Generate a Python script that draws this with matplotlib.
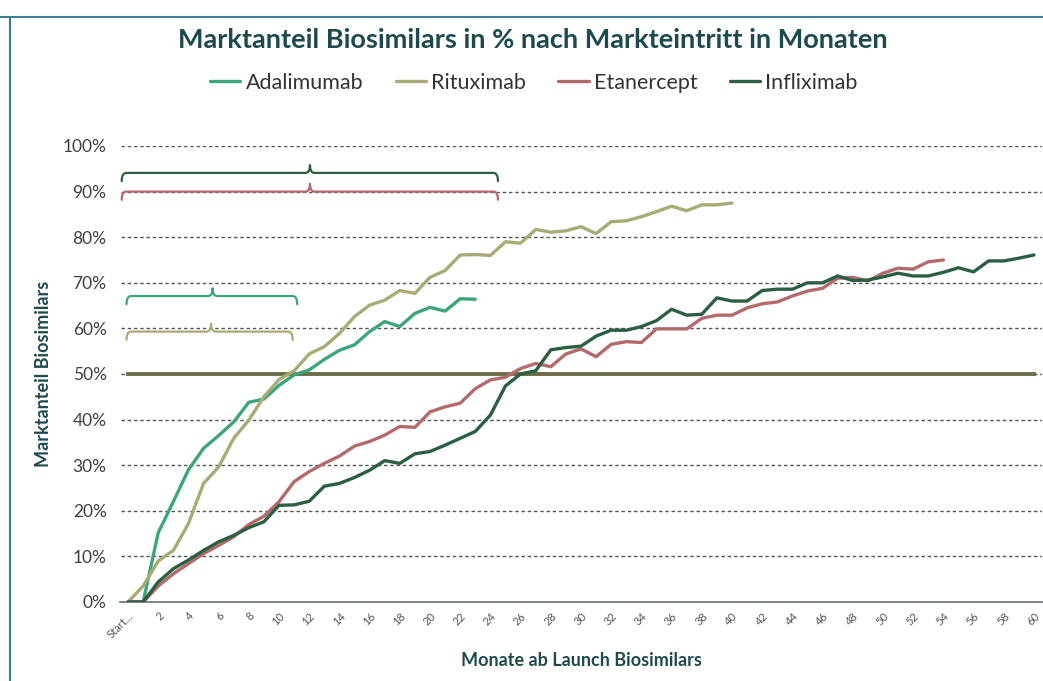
import matplotlib
matplotlib.use('Agg')
import matplotlib.pyplot as plt
from matplotlib.path import Path
from matplotlib.patches import PathPatch
from matplotlib.lines import Line2D
import numpy as np

plt.rcParams['font.family'] = ['Lato', 'DejaVu Sans']

# Marktanteil (%) je Monat ab Launch, Index 0 = "Start..."
ADALIMUMAB = [0, 0, 15.2, 22, 29, 33.7, 36.5, 39.5, 43.8, 44.5, 47.5, 49.8, 50.9, 53.2, 55.2,
              56.4, 59.3, 61.5, 60.4, 63.3, 64.6, 63.8, 66.5, 66.4]
RITUXIMAB = [0, 3.5, 9, 11.3, 17.2, 26, 29.6, 35.9, 39.9, 45, 48.8, 50.7, 54.4, 56, 58.9,
             62.6, 65.1, 66.2, 68.3, 67.7, 71.2, 72.7, 76.1, 76.2, 76, 79, 78.7, 81.7, 81.1,
             81.4, 82.3, 80.8, 83.4, 83.6, 84.5, 85.6, 86.8, 85.8, 87.1, 87.1, 87.5]
ETANERCEPT = [0, 0, 3.5, 6.2, 8.4, 10.6, 12.4, 14.3, 17, 18.8, 22, 26.4, 28.6, 30.4, 32,
              34.2, 35.2, 36.6, 38.5, 38.3, 41.7, 42.8, 43.6, 46.8, 48.7, 49.3, 51.2, 52.3,
              51.6, 54.4, 55.5, 53.8, 56.5, 57.1, 56.9, 59.9, 59.9, 59.9, 62.2, 62.9, 62.9,
              64.5, 65.4, 65.8, 67.1, 68.2, 68.8, 71, 71.2, 70.4, 72.1, 73.2, 73, 74.6, 75]
INFLIXIMAB = [0, 0, 4.4, 7.3, 9.2, 11.3, 13.2, 14.6, 16.3, 17.6, 21.2, 21.3, 22.1, 25.4, 26,
              27.3, 28.9, 31, 30.4, 32.5, 33, 34.4, 35.9, 37.4, 41, 47.4, 50, 50.7, 55.3,
              55.8, 56.1, 58.3, 59.6, 59.6, 60.4, 61.7, 64.2, 62.9, 63.1, 66.7, 66, 66, 68.3,
              68.6, 68.6, 70, 70, 71.5, 70.5, 70.6, 71.3, 72.1, 71.5, 71.5, 72.3, 73.3, 72.4,
              74.8, 74.8, 75.4, 76.1]
THRESHOLD = 50
N_MONTHS = 61
TICK_POS = list(range(0, 61, 2))
TICK_LABELS = ['Start...'] + [str(m) for m in range(2, 61, 2)]

# Klammern: Monate bis 50 % Marktanteil (start, ende, mitte, hoehe)
BRACKETS = [
    ('Infliximab', -0.42, 24.5, 12.05, 94.1),
    ('Etanercept', -0.42, 24.5, 12.05, 90.0),
    ('Adalimumab', -0.1, 11.2, 5.6, 67.1),
    ('Rituximab', -0.1, 10.9, 5.5, 59.3),
]

C = {
    'Adalimumab': '#3da57a', 'Rituximab': '#a9ab74', 'Etanercept': '#b36a6a',
    'Infliximab': '#2c5e42', 'thr': '#6c6c48', 'title': '#1e4a4f', 'grid': '#555555',
    'tick': '#404040', 'frame': '#3c7f90',
}

fig = plt.figure(figsize=(10.43, 6.81), dpi=100)
ax = fig.add_axes([120.5 / 1043, 1 - 602 / 681, 921 / 1043, 456 / 681])

months = np.arange(N_MONTHS)
ax.plot(months, [THRESHOLD] * N_MONTHS, color=C['thr'], lw=2.8, zorder=2)

series = [('Adalimumab', ADALIMUMAB), ('Rituximab', RITUXIMAB),
          ('Etanercept', ETANERCEPT), ('Infliximab', INFLIXIMAB)]
for name, vals in series:
    ax.plot(np.arange(len(vals)), vals, color=C[name], lw=2.4, label=name,
            solid_joinstyle='round', solid_capstyle='round', zorder=3)


def brace(x0, x1, xm, y, color):
    hook = 1.8
    tip = 1.7
    r = 0.3
    verts = [(x0, y - hook), (x0, y), (x0 + r, y),
             (xm - r, y), (xm, y), (xm, y + tip),
             (xm, y), (xm + r, y),
             (x1 - r, y), (x1, y), (x1, y - hook)]
    codes = [Path.MOVETO, Path.CURVE3, Path.CURVE3,
             Path.LINETO, Path.CURVE3, Path.CURVE3,
             Path.CURVE3, Path.CURVE3,
             Path.LINETO, Path.CURVE3, Path.CURVE3]
    ax.add_patch(PathPatch(Path(verts, codes), fill=False, edgecolor=color, lw=1.6,
                           capstyle='round', joinstyle='round', clip_on=False, zorder=4))


for name, x0, x1, xm, y in BRACKETS:
    brace(x0, x1, xm, y, C[name])

ax.set_xlim(-0.5, 60.5)
ax.set_ylim(0, 100)
ax.set_yticks(range(0, 101, 10))
ax.set_yticklabels([f'{v}%' for v in range(0, 101, 10)], fontsize=12.5, color=C['tick'])
ax.set_xticks(TICK_POS)
ax.set_xticklabels(TICK_LABELS, rotation=45, ha='right', rotation_mode='anchor',
                   fontsize=8, color='#555555')
ax.tick_params(axis='both', length=0)
ax.tick_params(axis='y', pad=10)
ax.tick_params(axis='x', pad=6)
ax.yaxis.grid(True, linestyle=(0, (2.5, 2)), color=C['grid'], lw=1.0)
ax.set_axisbelow(True)
for s in ['top', 'right', 'left']:
    ax.spines[s].set_visible(False)
ax.spines['bottom'].set_color('#6f7d7d')
ax.spines['bottom'].set_linewidth(1.3)

ax.set_ylabel('Marktanteil Biosimilars', fontsize=13, fontweight='bold', color=C['title'],
              labelpad=8)
ax.set_xlabel('Monate ab Launch Biosimilars', fontsize=13, fontweight='bold',
              color=C['title'], labelpad=8)

fig.text(0.511, 1 - 40 / 681, 'Marktanteil Biosimilars in % nach Markteintritt in Monaten',
         ha='center', va='center', fontsize=19.5, fontweight='bold', color=C['title'])

fig.legend(loc='center', bbox_to_anchor=(0.512, 1 - 83 / 681), ncol=4, frameon=False,
           fontsize=15.5, handlelength=1.4, handletextpad=0.25, columnspacing=1.5,
           labelcolor='#333333')

# Rahmen oben und links
fig.add_artist(Line2D([0, 1], [1 - 17 / 681, 1 - 17 / 681], color=C['frame'], lw=1.5))
fig.add_artist(Line2D([10 / 1043, 10 / 1043], [0, 1 - 17 / 681], color=C['frame'], lw=1.5))

fig.savefig('out.png', dpi=100, facecolor='white')
